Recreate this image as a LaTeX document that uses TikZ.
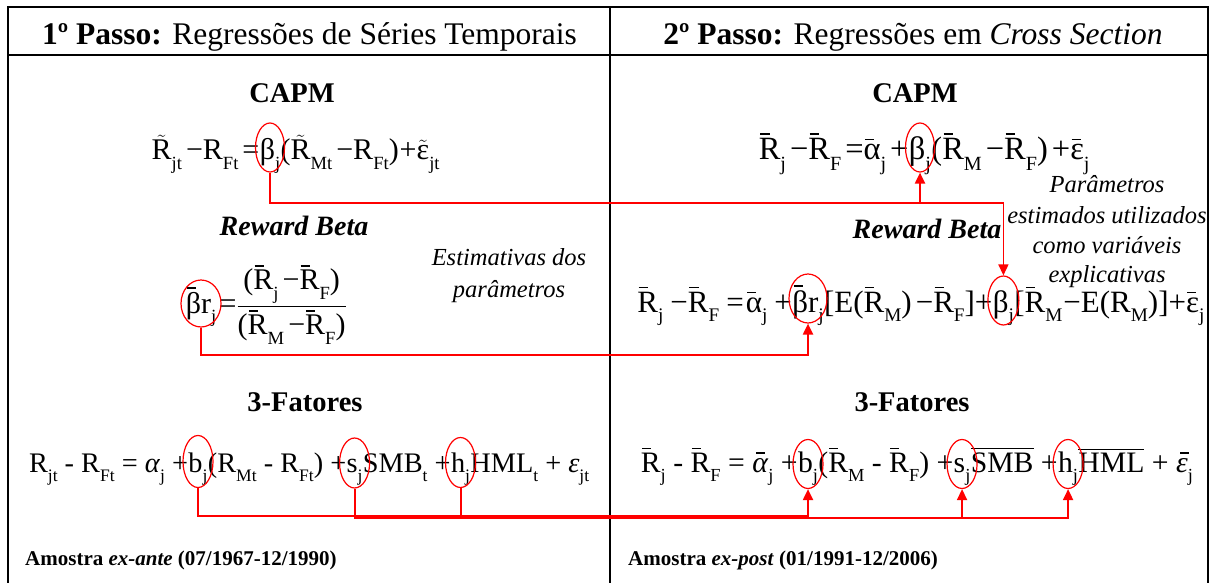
\documentclass[tikz,border=0pt]{standalone}
\usepackage{fontspec}
\usepackage{amsmath}
\usepackage{graphicx}
\setmainfont{Liberation Serif}
\usetikzlibrary{arrows.meta,shapes.geometric,calc}
\newcommand{\sbs}[1]{\raisebox{-0.32em}{\scalebox{0.62}{#1}}}
\newcommand{\ob}[1]{\leavevmode\rlap{\kern0.04em\raisebox{0.76em}{\rule{0.3em}{0.06em}}}#1}
\newcommand{\obl}[1]{\leavevmode\rlap{\kern0.04em\raisebox{0.6em}{\rule{0.28em}{0.06em}}}#1}
\newcommand{\obb}[1]{\leavevmode\rlap{\kern0.04em\raisebox{0.8em}{\rule{0.3em}{0.06em}}}#1}
\newcommand{\obi}[1]{\leavevmode\rlap{\kern0.14em\raisebox{0.6em}{\rule{0.28em}{0.06em}}}#1}
\newcommand{\ot}[1]{\ensuremath{\tilde{\text{#1}}}}
\newcommand{\ovl}[1]{\ensuremath{\overline{\text{#1}}}}
\newcommand{\mns}{\kern4pt−}
\newcommand{\eqs}{\kern4pt=}
\newcommand{\pls}{\kern4pt+}
\begin{document}
\begin{tikzpicture}[x=1pt,y=-1pt,
  eqA/.style={inner sep=0pt, font=\fontsize{30}{36}\selectfont},
  eqB/.style={inner sep=0pt, font=\fontsize{32.5}{38}\selectfont},
  eqC/.style={inner sep=0pt, font=\fontsize{31}{38}\selectfont},
  eqD/.style={inner sep=0pt, font=\fontsize{28.3}{34}\selectfont},
  eqE/.style={inner sep=0pt, font=\fontsize{29.7}{34}\selectfont},
  hl/.style={ellipse, draw=red, line width=1.2pt, inner sep=0pt},
  conn/.style={red, line width=2pt},
  arr/.style={conn, -{Triangle[length=11pt,width=10pt]}},
  frame/.style={line width=2pt, black},
  head/.style={inner sep=0pt, anchor=base, font=\fontsize{31.5}{36}\selectfont},
  ttl/.style={inner sep=0pt, anchor=base, font=\fontsize{28.5}{32}\selectfont\bfseries},
  ttli/.style={inner sep=0pt, anchor=base, font=\fontsize{28}{32}\selectfont\bfseries\itshape},
  note/.style={inner sep=0pt, anchor=base, font=\fontsize{24.5}{29}\selectfont\itshape},
  smp/.style={inner sep=0pt, anchor=base west, font=\fontsize{21}{25}\selectfont\bfseries}]
\useasboundingbox (0,0) rectangle (1215,583);
% frame
\draw[frame] (8,583) -- (8,7) -- (1208,7) -- (1208,583);
\draw[frame] (8,55) -- (1208,55);
\draw[frame] (610,7) -- (610,583);
% headers
\node[head] (h1) at (309.5,45) {\textbf{1º Passo:} Regressões de Séries Temporais};
\node[head] (h2) at (913,45) {\textbf{2º Passo:} Regressões em \textit{Cross Section}};
% titles
\node[ttl] (t1) at (292,103) {CAPM};
\node[ttl] (t2) at (915,103) {CAPM};
\node[ttli] (t3) at (294,235) {Reward Beta};
\node[ttli] (t4) at (927,238) {Reward Beta};
\node[ttl] (t5) at (305,411) {3-Fatores};
\node[ttl] (t6) at (912,411) {3-Fatores};
% notes
\node[note] (n1) at (509,265) {Estimativas dos};
\node[note] (n2) at (509,297) {parâmetros};
\node[note] (n3) at (1107,192) {Parâmetros};
\node[note] (n4) at (1107,223) {estimados utilizados};
\node[note] (n5) at (1107,253) {como variáveis};
\node[note] (n6) at (1107,282) {explicativas};
% samples
\node[smp] (s1) at (25,565) {Amostra \textit{ex-ante} (07/1967-12/1990)};
\node[smp] (s2) at (628,565) {Amostra \textit{ex-post} (01/1991-12/2006)};
% left CAPM
\node[eqA, anchor=base] (c1b) at (270,160) {β\sbs{j}};
\node[eqA, anchor=base east] (c1a) at (c1b.base west) {\ot{R}\sbs{jt}\mns R\sbs{Ft}\eqs};
\node[eqA, anchor=base west] (c1c) at (c1b.base east) {(\ot{R}\sbs{Mt}\mns R\sbs{Ft})\kern1pt+\ot{ε}\sbs{jt}};
% right CAPM
\node[eqB, anchor=base] (c2b) at (920,160) {β\sbs{j}};
\node[eqB, anchor=base east] (c2a) at (c2b.base west) {\ob{R}\sbs{j}\mns\ob{R}\sbs{F}\eqs\obl{α}\sbs{j}\pls};
\node[eqB, anchor=base west] (c2c) at (c2b.base east) {(\ob{R}\sbs{M}\mns\ob{R}\sbs{F})\pls\obl{ε}\sbs{j}};
% left reward beta
\node[eqA, anchor=base] (r1b) at (201,313) {\obb{β}r\sbs{j}};
\node[eqA, anchor=base west] (r1c) at (r1b.base east) {\kern3pt=$\dfrac{\text{(\ob{R}\sbs{j}\mns\ob{R}\sbs{F})}}{\text{(\ob{R}\sbs{M}\mns\ob{R}\sbs{F})}}$};
% right reward beta
\node[eqC, anchor=base] (r2b) at (808,312) {\obb{β}r\sbs{j}};
\node[eqC, anchor=base east] (r2a) at (r2b.base west) {\ob{R}\sbs{j}\kern7pt−\ob{R}\sbs{F}\kern7pt=\kern2pt\obl{α}\sbs{j}\kern7pt+};
\node[eqC, anchor=base west] (r2c) at (r2b.base east) {[E(\ob{R}\sbs{M})\mns\ob{R}\sbs{F}]+};
\node[eqC, anchor=base west] (r2d) at (r2c.base east) {β\sbs{j}};
\node[eqC, anchor=base west] (r2e) at (r2d.base east) {[\ob{R}\sbs{M}\kern1pt−E(R\sbs{M})]+\obl{ε}\sbs{j}};
% left 3 factors
\node[eqD, anchor=base] (f1b) at (198,472) {b\sbs{j}};
\node[eqD, anchor=base east] (f1a) at (f1b.base west) {R\sbs{jt} - R\sbs{Ft} = \textit{α}\sbs{j} +};
\node[eqD, anchor=base west] (f1c) at (f1b.base east) {(R\sbs{Mt} - R\sbs{Ft}) +};
\node[eqD, anchor=base west] (f1d) at (f1c.base east) {s\sbs{j}};
\node[eqD, anchor=base west] (f1e) at (f1d.base east) {SMB\sbs{t} +};
\node[eqD, anchor=base west] (f1f) at (f1e.base east) {h\sbs{j}};
\node[eqD, anchor=base west] (f1g) at (f1f.base east) {HML\sbs{t} + \textit{ε}\sbs{jt}};
% right 3 factors
\node[eqE, anchor=base] (f2b) at (808,472) {b\sbs{j}};
\node[eqE, anchor=base east] (f2a) at (f2b.base west) {\ob{R}\sbs{j} - \ob{R}\sbs{F} = \obi{\textit{α}}\sbs{j} +};
\node[eqE, anchor=base west] (f2c) at (f2b.base east) {(\ob{R}\sbs{M} - \ob{R}\sbs{F}) +};
\node[eqE, anchor=base west] (f2d) at (f2c.base east) {s\sbs{j}};
\node[eqE, anchor=base west] (f2e) at (f2d.base east) {\ovl{SMB} +};
\node[eqE, anchor=base west] (f2f) at (f2e.base east) {h\sbs{j}};
\node[eqE, anchor=base west] (f2g) at (f2f.base east) {\ovl{HML} + \obi{\textit{ε}}\sbs{j}};
% highlight ellipses
\node[hl, minimum width=29pt, minimum height=49pt] (e1) at ($(c1b.base)+(0,-12.5)$) {};
\node[hl, minimum width=29pt, minimum height=49pt] (e2) at ($(c2b.base)+(0,-12.5)$) {};
\node[hl, minimum width=40pt, minimum height=47pt] (e3) at ($(r1b.base)+(0,-9.5)$) {};
\node[hl, minimum width=38pt, minimum height=49pt] (e5) at ($(r2b.base)+(0,-13.5)$) {};
\node[hl, minimum width=31pt, minimum height=49pt] (e4) at ($(r2d.base)+(0,-11.5)$) {};
\node[hl, minimum width=30pt, minimum height=52pt] (g1) at ($(f1b.base)+(0,-10.5)$) {};
\node[hl, minimum width=30pt, minimum height=50pt] (g2) at ($(f1d.base)+(0,-9)$) {};
\node[hl, minimum width=30pt, minimum height=50pt] (g3) at ($(f1f.base)+(0,-9.5)$) {};
\node[hl, minimum width=30pt, minimum height=49pt] (k1) at ($(f2b.base)+(0,-8)$) {};
\node[hl, minimum width=30pt, minimum height=49pt] (k2) at ($(f2d.base)+(0,-8)$) {};
\node[hl, minimum width=30pt, minimum height=49pt] (k3) at ($(f2f.base)+(0,-8)$) {};
% connectors
\coordinate (yA) at (0,203);
\coordinate (yB) at (0,355);
\coordinate (yC) at (0,516);
\coordinate (yD) at (0,518);
\draw[arr] (e1.south) |- (e2.south |- yA) -- (e2.south);
\draw[arr, line width=1.5pt] (e1.south) |- (e4.north |- yA) -- (e4.north);
\draw[arr] (e3.south) |- (e5.south |- yB) -- (e5.south);
\draw[arr] (g1.south) |- (k1.south |- yC) -- (k1.south);
\draw[arr] (g2.south) |- (k2.south |- yD) -- (k2.south);
\draw[arr] (g3.south) |- (k3.south |- yD) -- (k3.south);
\end{tikzpicture}
\end{document}
